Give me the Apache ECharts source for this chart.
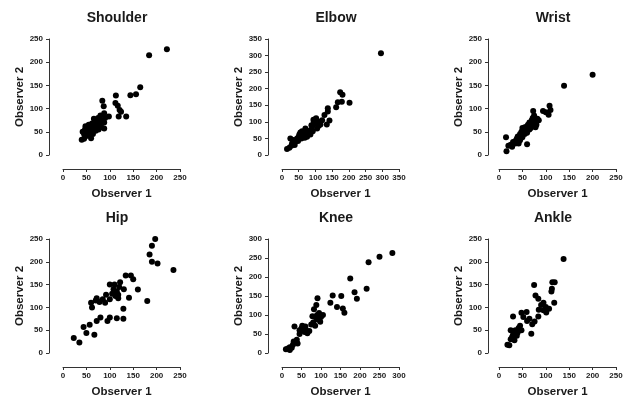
<!DOCTYPE html>
<html>
<head>
<meta charset="utf-8">
<script src="https://cdn.jsdelivr.net/npm/echarts@6/dist/echarts.min.js"></script>
<style>
  html, body { margin: 0; padding: 0; background: #fff; }
  #chart { width: 631px; height: 399px; }
</style>
</head>
<body>
<div id="chart"></div>
<script>
// panel titles and axis maxima
const joints = ['Shoulder', 'Elbow', 'Wrist', 'Hip', 'Knee', 'Ankle'];
const xMax = [250, 350, 250, 250, 300, 250];
const yMax = [250, 350, 250, 250, 300, 250];

// [observer 1, observer 2]
const shoulder = [[222,228],[184,215],[165,146],[156,131],[144,129],[135,83],[113,128],[119,83],[112,112],[117,106],
  [121,97],[124,93],[84,117],[87,105],[88,90],[98,83],[88,57],[40,33],[45,35],[48,40],[50,45],[42,50],[55,48],[60,36],
  [47,55],[52,60],[57,55],[60,62],[62,50],[65,58],[68,65],[70,70],[72,75],[66,78],[75,80],[78,68],[80,72],[62,68],
  [55,65],[72,60],[76,55],[82,60],[85,75],[90,80],[48,62],[58,42],[45,45],[53,52],[64,45],[70,52],[80,85],[88,70]];
const elbow = [[296,307],[174,189],[181,182],[179,161],[167,159],[202,158],[162,144],[137,141],[137,131],[127,121],
  [142,104],[134,92],[102,111],[94,106],[15,18],[22,22],[28,28],[30,35],[25,50],[35,45],[40,40],[45,50],[50,55],
  [52,62],[55,68],[60,72],[58,50],[65,60],[70,80],[72,65],[75,55],[80,70],[85,75],[88,90],[90,85],[95,100],[100,95],
  [100,108],[105,80],[110,100],[110,88],[115,92],[120,105],[60,58],[48,42],[38,30],[68,52],[85,62],[92,72]];
const wrist = [[200,173],[139,149],[108,106],[110,97],[94,95],[100,92],[106,87],[60,23],[15,38],[16,8],[73,95],
  [20,20],[25,22],[30,28],[28,18],[35,30],[38,35],[40,40],[42,25],[45,45],[48,50],[50,38],[52,55],[55,60],[58,52],
  [60,62],[62,65],[65,70],[68,58],[70,75],[72,80],[75,68],[78,72],[80,65],[82,78],[65,55],[55,45],[45,32],[35,25],
  [70,62],[60,48],[75,85],[50,58],[40,30],[78,60],[85,75]];
const hip = [[197,250],[190,235],[185,216],[190,200],[202,196],[236,182],[180,114],[160,139],[141,121],[150,162],
  [145,170],[134,170],[129,97],[129,75],[115,76],[60,110],[62,100],[70,115],[72,120],[78,112],[85,118],[90,110],
  [92,128],[100,118],[105,130],[108,140],[110,150],[115,135],[118,128],[120,145],[122,155],[118,120],[112,125],
  [130,140],[100,150],[100,78],[95,70],[80,78],[72,70],[57,62],[44,57],[50,44],[67,40],[23,33],[35,23]];
const knee = [[283,263],[250,253],[222,239],[175,196],[217,169],[186,160],[192,143],[152,150],[130,151],[124,132],
  [141,121],[156,117],[160,106],[91,144],[88,126],[10,10],[15,12],[20,8],[25,14],[28,22],[30,30],[35,28],[40,25],
  [32,70],[45,60],[50,65],[55,68],[58,55],[62,60],[65,52],[70,58],[75,75],[80,80],[85,95],[90,100],[95,105],
  [100,95],[82,115],[90,88],[78,97],[85,72],[98,82],[105,100],[45,50],[38,35],[20,15],[52,72],[60,70]];
const ankle = [[138,206],[119,155],[114,155],[112,135],[113,141],[118,110],[75,149],[78,126],[84,119],[100,101],
  [95,94],[101,89],[107,97],[84,80],[69,42],[71,63],[76,69],[59,90],[48,88],[52,79],[30,80],[18,18],[22,17],
  [25,30],[28,35],[30,40],[32,45],[35,50],[38,38],[42,55],[45,60],[25,50],[30,33],[40,45],[33,28],[48,50],
  [60,70],[65,75],[90,105],[95,110],[100,95],[85,95]];
const panelData = [shoulder, elbow, wrist, hip, knee, ankle];

const gridLeft = [63, 282, 499];
const gridTop = [39, 239];
const yOffset = [14, 14, 11];
const font = 'Liberation Sans, Arial, sans-serif';
const ink = '#1a1a1a';

const grids = [], xAxes = [], yAxes = [], series = [], titles = [];
joints.forEach((name, i) => {
  const col = i % 3, row = Math.floor(i / 3);
  const left = gridLeft[col], top = gridTop[row];
  grids.push({left: left, top: top, width: 117, height: 116});
  titles.push({
    text: name, left: left + 54, top: top - 28, textAlign: 'center', padding: 0,
    textStyle: {fontFamily: font, fontSize: 14, fontWeight: 'bold', color: ink}
  });
  xAxes.push({
    gridIndex: i, type: 'value', min: 0, max: xMax[i], interval: 50, offset: 14,
    name: 'Observer 1', nameLocation: 'middle', nameGap: 19,
    nameTextStyle: {fontFamily: font, fontSize: 11.5, fontWeight: 'bold', color: ink},
    axisLine: {show: true, onZero: false, lineStyle: {color: '#333', width: 1}},
    axisTick: {show: true, length: 3, lineStyle: {color: '#333'}},
    axisLabel: {fontFamily: font, fontSize: 8, fontWeight: 'bold', color: ink, margin: 5},
    splitLine: {show: false}
  });
  yAxes.push({
    gridIndex: i, type: 'value', min: 0, max: yMax[i], interval: 50, offset: yOffset[col],
    name: 'Observer 2', nameLocation: 'middle', nameGap: 22,
    nameTextStyle: {fontFamily: font, fontSize: 11.5, fontWeight: 'bold', color: ink},
    axisLine: {show: true, onZero: false, lineStyle: {color: '#333', width: 1}},
    axisTick: {show: true, length: 3, lineStyle: {color: '#333'}},
    axisLabel: {fontFamily: font, fontSize: 8, fontWeight: 'bold', color: ink, margin: 6},
    splitLine: {show: false}
  });
  series.push({
    type: 'scatter', xAxisIndex: i, yAxisIndex: i, data: panelData[i],
    symbolSize: 6, itemStyle: {color: '#000', opacity: 1}, silent: true
  });
});

const myChart = echarts.init(document.getElementById('chart'), null, {renderer: 'canvas'});
myChart.setOption({
  animation: false,
  backgroundColor: '#fff',
  title: titles,
  grid: grids,
  xAxis: xAxes,
  yAxis: yAxes,
  series: series
});
</script>
</body>
</html>
